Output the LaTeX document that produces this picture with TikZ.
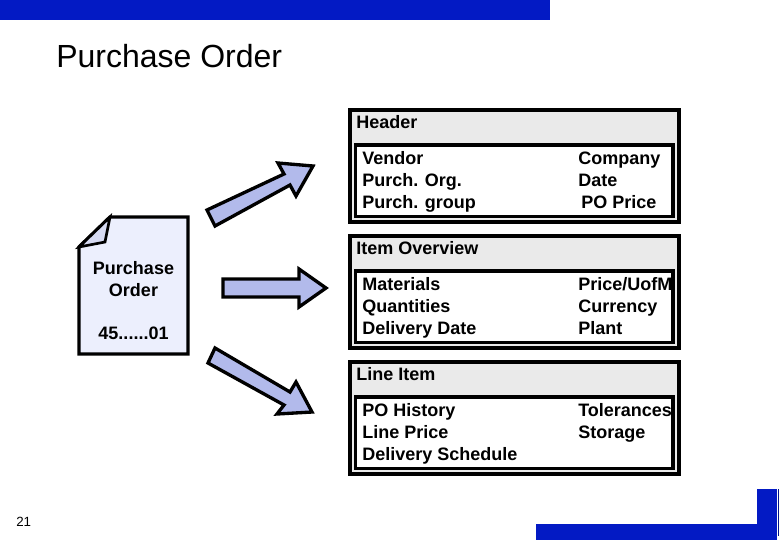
\documentclass[tikz,border=0pt]{standalone}
\usepackage{fontspec}
\setmainfont{Liberation Sans}
\definecolor{sapblue}{RGB}{3,26,196}
\definecolor{panelgrey}{RGB}{234,234,234}
\definecolor{arrowfill}{RGB}{178,186,235}
\definecolor{docfill}{RGB}{236,239,253}
\definecolor{foldfill}{RGB}{214,218,242}
\tikzset{
  bar/.style={fill=sapblue,draw=none},
  outerbox/.style={draw=black,line width=3pt,fill=panelgrey,minimum width=246.75pt,minimum height=84pt,anchor=north west,inner sep=0pt,outer sep=0pt},
  innerbox/.style={draw=black,line width=2.5pt,fill=white,minimum width=238.1pt,minimum height=53.6pt,anchor=north west,inner sep=0pt,outer sep=0pt},
  body/.style={font=\fontsize{13.5}{16.4}\selectfont\bfseries,align=left,anchor=north west,inner sep=0pt,text=black,execute at begin node={\rule{0pt}{10pt}}},
  centred/.style={font=\fontsize{13.5}{16.5}\selectfont\bfseries,align=center,anchor=base,inner sep=0pt},
  blockarrow/.style={draw=black,line width=2.5pt,fill=arrowfill,miter limit=6},
  docshape/.style={draw=black,line width=2.6pt,fill=docfill,line join=miter}
}
\begin{document}
\begin{tikzpicture}[x=0.75pt,y=-0.75pt]
\useasboundingbox (0,0) rectangle (780,540);
% decorative bars
\fill[bar] (0,0) rectangle (550,20);
\fill[bar] (536,524) rectangle (777,540);
\fill[bar] (757,489) rectangle (777,540);
\fill[sapblue!70!black] (778.4,489) rectangle (779.4,536);
% title and page number
\node[anchor=base west,inner sep=0pt,font=\fontsize{24}{28}\selectfont] (title) at (56,67) {Purchase Order};
\node[anchor=base west,inner sep=0pt,font=\fontsize{10}{12}\selectfont] (page) at (16,526) {21};
% document
\draw[docshape] (110,217) -- (188,217) -- (188,354) -- (79,354) -- (79,247) -- cycle;
\draw[draw=black,line width=2pt,fill=foldfill,line join=miter] (79,247) -- (110,217) -- (105,242) -- cycle;
\node[centred] (doc1) at (133.5,274) {Purchase};
\node[centred] (doc2) at (133.5,296) {Order};
\node[centred] (doc3) at (133.5,339) {45......01};
% block arrows
\draw[blockarrow] (207,210) -- (284,174) -- (278,163) -- (313,166) -- (296,196) -- (290,185) -- (215,226) -- cycle;
\draw[blockarrow] (223,279) -- (299,279) -- (299,269) -- (326,288) -- (299,307) -- (299,297) -- (223,297) -- cycle;
\draw[blockarrow] (215,348) -- (290,392) -- (296,382) -- (312,412) -- (277,414) -- (284,405) -- (208,363) -- cycle;
% panels
\node[outerbox] (hdr) at (350,110) {};
\node[innerbox] (hdrin) at (355.5,145) {};
\node[outerbox] (itm) at (350,236) {};
\node[innerbox] (itmin) at (355.5,271) {};
\node[outerbox] (lin) at (350,362) {};
\node[innerbox] (linin) at (355.5,397) {};
% panel titles
\node[body] (t1) at (356,115) {Header};
\node[body] (t2) at (356,241) {Item Overview};
\node[body] (t3) at (356,367) {Line Item};
% panel texts
\node[body] (a1) at (362,151) {Vendor\\Purch. Org.\\Purch. group};
\node[body] (b1) at (578,152) {Company\\Date\\\mbox{\kern2.25pt PO Price}};
\node[body] (a2) at (362,277) {Materials\\Quantities\\Delivery Date};
\node[body] (b2) at (578,277) {Price/UofM\\Currency\\Plant};
\node[body] (a3) at (362,403) {PO History\\Line Price\\Delivery Schedule};
\node[body] (b3) at (578,403) {Tolerances\\Storage};
\end{tikzpicture}
\end{document}
